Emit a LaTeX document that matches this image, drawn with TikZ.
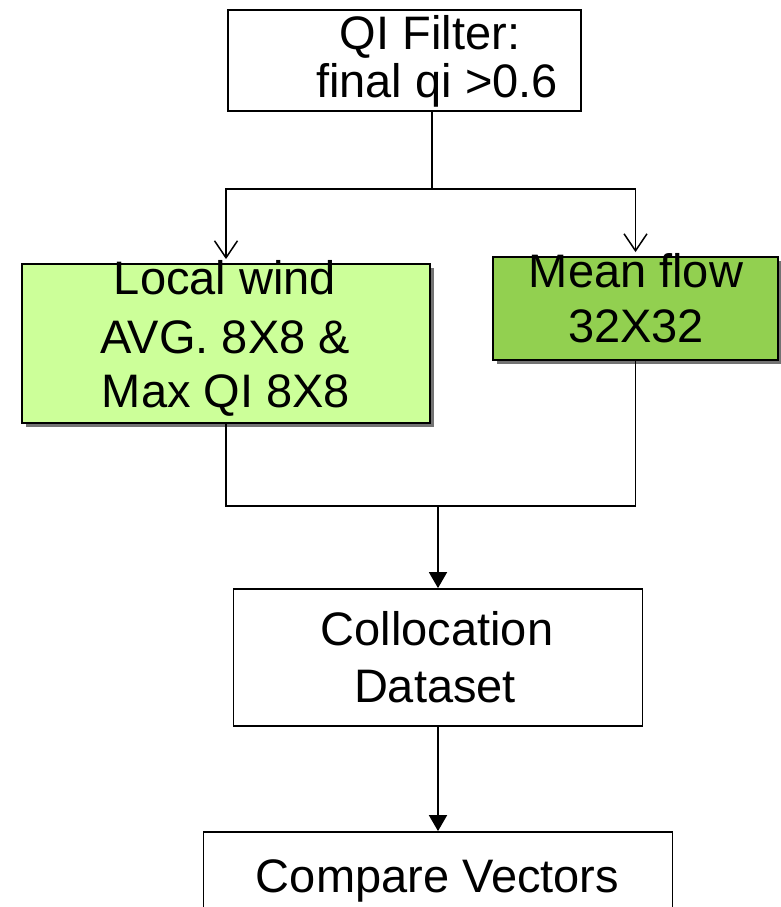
\documentclass[tikz,border=0pt]{standalone}
\usepackage{fontspec}
\setmainfont{Liberation Sans}
\usetikzlibrary{arrows.meta,shadows}
\definecolor{lightgreen}{RGB}{204,255,153}
\definecolor{midgreen}{RGB}{146,208,80}
\begin{document}
\begin{tikzpicture}[x=1pt,y=-1pt,
  boxstyle/.style={draw=black,line width=1.8pt,rectangle,inner sep=0pt,fill=white},
  shadowed/.style={drop shadow={shadow xshift=4pt,shadow yshift=-4pt,fill=black!55,opacity=1}},
  txt/.style={inner sep=0pt,anchor=base,font=\fontsize{47}{56}\selectfont},
  conn/.style={line width=1.8pt},
  openarrow/.style={conn,-{Straight Barb[length=17pt,width=23pt,line width=1.5pt]}},
  filledarrow/.style={conn,-{Triangle[length=16pt,width=18pt]}}]
\useasboundingbox (0,0) rectangle (781,907);
\clip (0,0) rectangle (781,907);
\fill[white] (0,0) rectangle (781,907);
% boxes
\node[boxstyle,minimum width=353pt,minimum height=101pt] (qi) at (404.5,60.5) {};
\node[boxstyle,shadowed,fill=lightgreen,minimum width=408pt,minimum height=159pt] (local) at (226,343.5) {};
\node[boxstyle,shadowed,fill=midgreen,minimum width=285pt,minimum height=103pt] (mean) at (635.5,308.5) {};
\node[boxstyle,minimum width=409pt,minimum height=137pt] (coll) at (438,657.5) {};
\node[boxstyle,minimum width=469pt,minimum height=128pt] (comp) at (438,896) {};
% texts
\node[txt] (qi1) at (430,50) {QI Filter:};
\node[txt] (qi2) at (437,97) {final qi >0.6};
\node[txt] (lw1) at (225,294) {Local wind};
\node[txt] (lw2) at (225,353) {AVG. 8X8 \&};
\node[txt] (lw3) at (226,407) {Max QI 8X8};
\node[txt] (mf1) at (636,287) {Mean flow};
\node[txt] (mf2) at (636,342) {32X32};
\node[txt] (cd1) at (437,645) {Collocation};
\node[txt] (cd2) at (435,702) {Dataset};
\node[txt] (cv1) at (437.5,892) {Compare Vectors};
% connectors
\coordinate (split) at (432,189);
\coordinate (merge) at (438,506);
\draw[conn] (split |- qi.south) -- (split);
\draw[openarrow,shorten >=4pt] (split) -| (local.north);
\draw[openarrow,shorten >=4pt] (split) -| (mean.north);
\draw[conn] (local.south) |- (merge) -| (mean.south);
\draw[filledarrow] (merge) -- (merge |- coll.north);
\draw[filledarrow] (coll.south) -- (coll.south |- comp.north);
\end{tikzpicture}
\end{document}
